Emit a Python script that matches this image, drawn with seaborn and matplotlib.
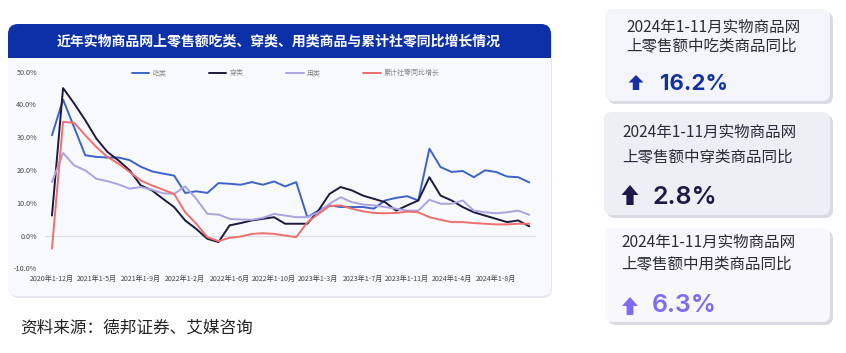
import pandas as pd
import matplotlib.pyplot as plt
import seaborn as sns
from matplotlib.patches import FancyBboxPatch, Rectangle, Polygon

# ---- data ----
periods = ["2020年1-12月", "2021年1-5月", "2021年1-9月", "2022年1-2月", "2022年1-6月",
           "2022年1-10月", "2023年1-3月", "2023年1-7月", "2023年1-11月", "2024年1-4月",
           "2024年1-8月"]
food = [30.6, 41.5, 33.0, 24.5, 24.0, 23.8, 23.8, 23.0, 21.0, 19.6, 18.9, 18.3,
        13.0, 13.5, 13.0, 16.0, 15.8, 15.5, 16.3, 15.5, 16.5, 15.0, 16.3,
        5.6, 7.6, 9.2, 8.7, 8.7, 8.7, 8.2, 10.7, 11.5, 12.0, 10.7,
        26.5, 20.9, 19.4, 19.7, 17.8, 19.9, 19.4, 18.0, 17.8, 16.2]
clothing = [6.1, 45.0, 40.3, 35.2, 29.6, 25.5, 22.9, 19.9, 15.3, 13.8, 11.2, 8.7,
            4.6, 2.0, -1.0, -2.0, 3.1, 3.8, 4.6, 5.1, 5.6, 3.6, 3.6,
            3.6, 7.6, 12.7, 14.8, 13.8, 12.2, 11.2, 10.2, 7.6, 9.2, 10.7,
            17.8, 12.2, 10.7, 8.7, 7.1, 6.1, 5.1, 4.1, 4.6, 2.8]
daily = [16.3, 25.2, 21.4, 19.9, 17.3, 16.6, 15.6, 14.3, 14.8, 14.0, 12.9, 12.7,
         15.0, 11.2, 6.6, 6.4, 5.1, 4.9, 4.8, 5.4, 6.6, 6.1, 5.6,
         5.6, 7.1, 9.7, 11.7, 10.2, 9.5, 9.2, 8.7, 8.2, 7.6, 7.6,
         10.9, 9.7, 9.7, 10.7, 7.6, 7.1, 6.8, 7.1, 7.6, 6.3]
retail = [-4.0, 34.7, 34.4, 30.6, 27.0, 24.0, 21.9, 19.4, 16.8, 15.3, 14.0, 12.7,
          7.1, 3.6, -0.5, -1.7, -0.7, -0.3, 0.5, 0.7, 0.5, 0.0, -0.5,
          4.0, 6.6, 9.0, 9.2, 8.2, 7.4, 6.9, 6.8, 6.9, 7.3, 7.1,
          5.6, 4.8, 4.1, 4.1, 3.8, 3.6, 3.4, 3.4, 3.6, 3.6]
series_names = ["吃类", "穿类", "用类", "累计社零同比增长"]
series_colors = ["#3b63c9", "#1b1a3c", "#aaa3e3", "#ef6f6f"]

card_lines = [["2024年1-11月实物商品网", "上零售额中吃类商品同比"],
              ["2024年1-11月实物商品网", "上零售额中穿类商品同比"],
              ["2024年1-11月实物商品网", "上零售额中用类商品同比"]]
card_values = ["16.2%", "2.8%", "6.3%"]

sns.set_theme(style="white")
plt.rcParams["font.family"] = ["Noto Sans CJK SC", "DejaVu Sans"]
plt.rcParams["axes.unicode_minus"] = False

W, H = 846, 353
fig = plt.figure(figsize=(W / 100, H / 100), dpi=100)
fig.patch.set_facecolor("white")

# background layer in pixel coordinates
bg = fig.add_axes([0, 0, 1, 1])
bg.set_xlim(0, W)
bg.set_ylim(H, 0)
bg.axis("off")

# chart panel: shadow, blue header, light body
bg.add_patch(FancyBboxPatch((9, 26), 543, 272, boxstyle="round,pad=0,rounding_size=10",
                            fc="#e6e8ef", ec="none", zorder=0))
bg.add_patch(FancyBboxPatch((8, 24), 543, 272, boxstyle="round,pad=0,rounding_size=10",
                            fc="#0c30a8", ec="none", zorder=1))
bg.add_patch(FancyBboxPatch((8, 58), 543, 238, boxstyle="round,pad=0,rounding_size=8",
                            fc="#f8f9fd", ec="none", zorder=2))
bg.add_patch(Rectangle((8, 58), 543, 20, fc="#f8f9fd", ec="none", zorder=2))
bg.text(279, 42, "近年实物商品网上零售额吃类、穿类、用类商品与累计社零同比增长情况",
        color="white", fontsize=10.0, fontweight="bold", ha="center", va="center", zorder=3)

# source note
bg.text(20, 328, "资料来源：德邦证券、艾媒咨询", fontsize=12, style="italic",
        color="#222222", ha="left", va="center", zorder=3)

# right-hand cards
cards = [
    dict(box=(605, 9, 225, 92), bg="#f4f5fb", y1=27, y2=47, vy=84, fs=16, fw="bold",
         col="#1431a3", arrow=(636, 75, 90, 7.5, 3.2), tx=626, vx=660),
    dict(box=(604, 112, 226, 103), bg="#eeeff5", y1=132, y2=157, vy=197, fs=18, fw="semibold",
         col="#1c1a48", arrow=(630, 185, 205, 8.5, 3.6), tx=622, vx=653),
    dict(box=(605, 228, 225, 94), bg="#f7f7fc", y1=242, y2=264, vy=306, fs=18, fw="semibold",
         col="#7b6cf0", arrow=(630, 297, 315, 8.0, 3.4), tx=621, vx=652),
]
for c, lines, val in zip(cards, card_lines, card_values):
    x0, y0, w, h = c["box"]
    bg.add_patch(FancyBboxPatch((x0 + 3, y0 + 3), w, h, boxstyle="round,pad=0,rounding_size=8",
                                fc="#d9dae2", ec="none", zorder=1))
    bg.add_patch(FancyBboxPatch((x0, y0), w, h, boxstyle="round,pad=0,rounding_size=8",
                                fc=c["bg"], ec="none", zorder=2))
    bg.text(c["tx"], c["y1"], lines[0], fontsize=11.2, color="#2b2b3a", ha="left", va="center", zorder=3)
    bg.text(c["tx"], c["y2"], lines[1], fontsize=11.2, color="#2b2b3a", ha="left", va="center", zorder=3)
    ax_c, top, bot, hw, sw = c["arrow"]
    mid = top + (bot - top) * 0.5
    bg.add_patch(Polygon([(ax_c, top), (ax_c + hw, mid), (ax_c + sw, mid), (ax_c + sw, bot),
                          (ax_c - sw, bot), (ax_c - sw, mid), (ax_c - hw, mid)],
                         closed=True, fc=c["col"], ec="none", zorder=3))
    bg.text(c["vx"], c["vy"], val, fontsize=c["fs"], fontweight=c["fw"], color=c["col"],
            family=["Inter", "DejaVu Sans"], ha="left", va="center", zorder=3)

# ---- line chart ----
n = len(food)
df = pd.DataFrame({"idx": list(range(n)) * 4,
                   "value": food + clothing + daily + retail,
                   "series": sum([[s] * n for s in series_names], [])})

ax = fig.add_axes([45.3 / W, 1 - 268.3 / H, 490.7 / W, 196.6 / H])
ax.patch.set_alpha(0)
sns.lineplot(data=df, x="idx", y="value", hue="series", hue_order=series_names,
             palette=series_colors, linewidth=1.4, ax=ax)
ax.axhline(0, color="#dcdde3", lw=0.8, zorder=0)
ax.set_xlim(-0.6, 43.6)
ax.set_ylim(-10, 50)
ax.set_yticks(range(-10, 51, 10))
ax.set_yticklabels([f"{v:.1f}%" for v in range(-10, 51, 10)])
ax.set_xticks(range(0, 41, 4))
ax.set_xticklabels(periods)
ax.tick_params(axis="y", labelsize=5.2, colors="#444444", length=0, pad=6)
ax.tick_params(axis="x", labelsize=5.1, colors="#444444", length=0, pad=5)
ax.set_xlabel("")
ax.set_ylabel("")
for s in ax.spines.values():
    s.set_visible(False)
ax.grid(False)

handles, labels = ax.get_legend_handles_labels()
ax.legend(handles, labels, loc="center", bbox_to_anchor=(0.49, 0.993), ncol=4, frameon=False,
          fontsize=5, labelcolor="#888888", handlelength=2.5, handletextpad=0.4,
          columnspacing=6.2)

fig.savefig("out.png", dpi=100)
